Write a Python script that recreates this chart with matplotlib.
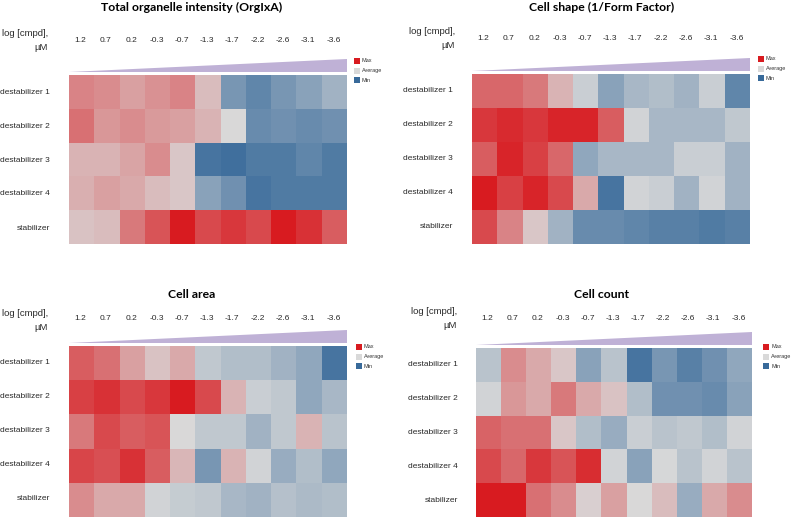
import numpy as np
import matplotlib
matplotlib.use("Agg")
import matplotlib.pyplot as plt
from matplotlib.colors import LinearSegmentedColormap
from matplotlib.patches import Rectangle

# ---------------- data ----------------
doses = ["1.2", "0.7", "0.2", "-0.3", "-0.7", "-1.3", "-1.7", "-2.2", "-2.6", "-3.1", "-3.6"]
rows = ["destabilizer 1", "destabilizer 2", "destabilizer 3", "destabilizer 4", "stabilizer"]

orgixa = [
    [0.45, 0.40, 0.30, 0.38, 0.45, 0.15, -0.60, -0.75, -0.60, -0.50, -0.35],
    [0.55, 0.35, 0.40, 0.33, 0.30, 0.20, 0.00, -0.70, -0.65, -0.70, -0.65],
    [0.20, 0.20, 0.28, 0.40, 0.10, -0.90, -0.95, -0.85, -0.85, -0.75, -0.85],
    [0.22, 0.30, 0.25, 0.15, 0.10, -0.50, -0.65, -0.90, -0.85, -0.85, -0.85],
    [0.12, 0.15, 0.50, 0.70, 1.00, 0.75, 0.85, 0.75, 1.00, 0.88, 0.65],
]
cell_shape = [
    [0.60, 0.60, 0.50, 0.20, -0.10, -0.50, -0.30, -0.25, -0.35, -0.10, -0.75],
    [0.85, 0.92, 0.85, 0.95, 0.95, 0.65, -0.05, -0.30, -0.30, -0.30, -0.15],
    [0.65, 0.95, 0.80, 0.60, -0.45, -0.30, -0.30, -0.30, -0.10, -0.10, -0.35],
    [1.00, 0.80, 0.95, 0.75, 0.25, -0.90, -0.05, -0.10, -0.35, -0.05, -0.35],
    [0.75, 0.45, 0.10, -0.35, -0.70, -0.70, -0.75, -0.80, -0.80, -0.85, -0.80],
]
cell_area = [
    [0.65, 0.55, 0.30, 0.12, 0.25, -0.15, -0.25, -0.25, -0.35, -0.45, -0.90],
    [0.80, 0.88, 0.75, 0.85, 1.00, 0.75, 0.20, -0.10, -0.15, -0.45, -0.30],
    [0.50, 0.75, 0.65, 0.70, 0.00, -0.15, -0.15, -0.35, -0.15, 0.20, -0.20],
    [0.78, 0.72, 0.88, 0.65, 0.18, -0.60, 0.20, -0.05, -0.40, -0.25, -0.45],
    [0.40, 0.25, 0.25, -0.05, -0.12, -0.15, -0.30, -0.35, -0.22, -0.28, -0.25],
]
cell_count = [
    [-0.20, 0.40, 0.25, 0.10, -0.50, -0.20, -0.90, -0.60, -0.80, -0.65, -0.45],
    [-0.05, 0.35, 0.25, 0.50, 0.25, 0.12, -0.25, -0.65, -0.65, -0.70, -0.50],
    [0.62, 0.55, 0.55, 0.10, -0.25, -0.40, -0.10, -0.20, -0.15, -0.25, -0.05],
    [0.75, 0.60, 0.85, 0.70, 0.90, -0.05, -0.50, -0.02, -0.20, -0.05, -0.20],
    [1.00, 1.00, 0.55, 0.40, 0.05, 0.30, 0.00, 0.15, -0.40, 0.25, 0.40],
]
titles = ["Total organelle intensity (OrgIxA)", "Cell shape (1/Form Factor)", "Cell area", "Cell count"]
legend_labels = ["Max", "Average", "Min"]

# ---------------- style ----------------
W, H = 793, 517
C_MAX, C_AVG, C_MIN = "#D81B20", "#D9D9D9", "#386A9A"
cmap = LinearSegmentedColormap.from_list("rgb_div", [C_MIN, C_AVG, C_MAX])
TRI = "#BFB1D6"
TXT = "#2a2a2a"
FONT = "Liberation Sans"
TFONT = "Lato"

fig = plt.figure(figsize=(W / 100, H / 100), dpi=100)
fig.patch.set_facecolor("white")


def px_axes(x0, y0, x1, y1):
    return fig.add_axes([x0 / W, 1 - y1 / H, (x1 - x0) / W, (y1 - y0) / H])


def fx(x):
    return x / W


def fy(y):
    return 1 - y / H


panels = [
    dict(data=orgixa, heat=(69, 75, 347, 244), title=(192, 7), ticky=41,
         logx=48, logy=33, labx=50, leg=(354, 58)),
    dict(data=cell_shape, heat=(472, 74, 750, 244), title=(602, 7), ticky=39,
         logx=455, logy=32, labx=453, leg=(758, 56)),
    dict(data=cell_area, heat=(69, 346, 347, 517), title=(192, 294), ticky=318,
         logx=48, logy=313, labx=50, leg=(356, 344)),
    dict(data=cell_count, heat=(476, 348, 752, 517), title=(601, 294), ticky=319,
         logx=457, logy=312, labx=458, leg=(763, 344)),
]

for p, title in zip(panels, titles):
    x0, y0, x1, y1 = p["heat"]
    ax = px_axes(x0, y0, x1, y1)
    vals = np.array(p["data"], dtype=float)
    ax.pcolormesh(vals, cmap=cmap, vmin=-1, vmax=1, edgecolor="none")
    ax.set_xlim(0, len(doses))
    ax.set_ylim(len(rows), 0)
    for s in ax.spines.values():
        s.set_visible(False)
    ax.set_xticks([])
    ax.set_yticks([])
    colw = (x1 - x0) / len(doses)
    rowh = 34.0
    for i, d in enumerate(doses):
        fig.text(fx(x0 + (i + 0.5) * colw - 1), fy(p["ticky"]), d, ha="center", va="center",
                 fontsize=6, family=FONT, color=TXT)
    for j, r in enumerate(rows):
        fig.text(fx(p["labx"]), fy(y0 + (j + 0.5) * rowh), r, ha="right", va="center",
                 fontsize=6, family=FONT, color=TXT)
    fig.text(fx(p["logx"]), fy(p["logy"]), "log [cmpd],", ha="right", va="center",
             fontsize=6.8, family=FONT, color=TXT)
    fig.text(fx(p["logx"]), fy(p["logy"] + 14), "\u00b5M", ha="right", va="center",
             fontsize=6.8, family=FONT, color=TXT)
    fig.text(fx(p["title"][0]), fy(p["title"][1]), title, ha="center", va="center",
             fontsize=8.8, family=TFONT, weight="bold", color="black")
    # concentration wedge
    tax = px_axes(x0, y0 - 17, x1, y0 - 3)
    tax.fill([0, 1, 1], [0.0, 0.0, 0.95], color=TRI, lw=0)
    tax.set_xlim(0, 1)
    tax.set_ylim(0, 1)
    tax.axis("off")
    # legend
    lx, ly = p["leg"]
    for k, (lab, c) in enumerate(zip(legend_labels, [C_MAX, C_AVG, C_MIN])):
        yy = ly + k * 9.7
        fig.patches.append(Rectangle((fx(lx), fy(yy + 6)), 6 / W, 6 / H,
                                     transform=fig.transFigure, color=c, lw=0))
        fig.text(fx(lx + 8), fy(yy + 3), lab, ha="left", va="center",
                 fontsize=4, family=FONT, color="#333333")

fig.savefig("out.png", dpi=100, facecolor="white")
